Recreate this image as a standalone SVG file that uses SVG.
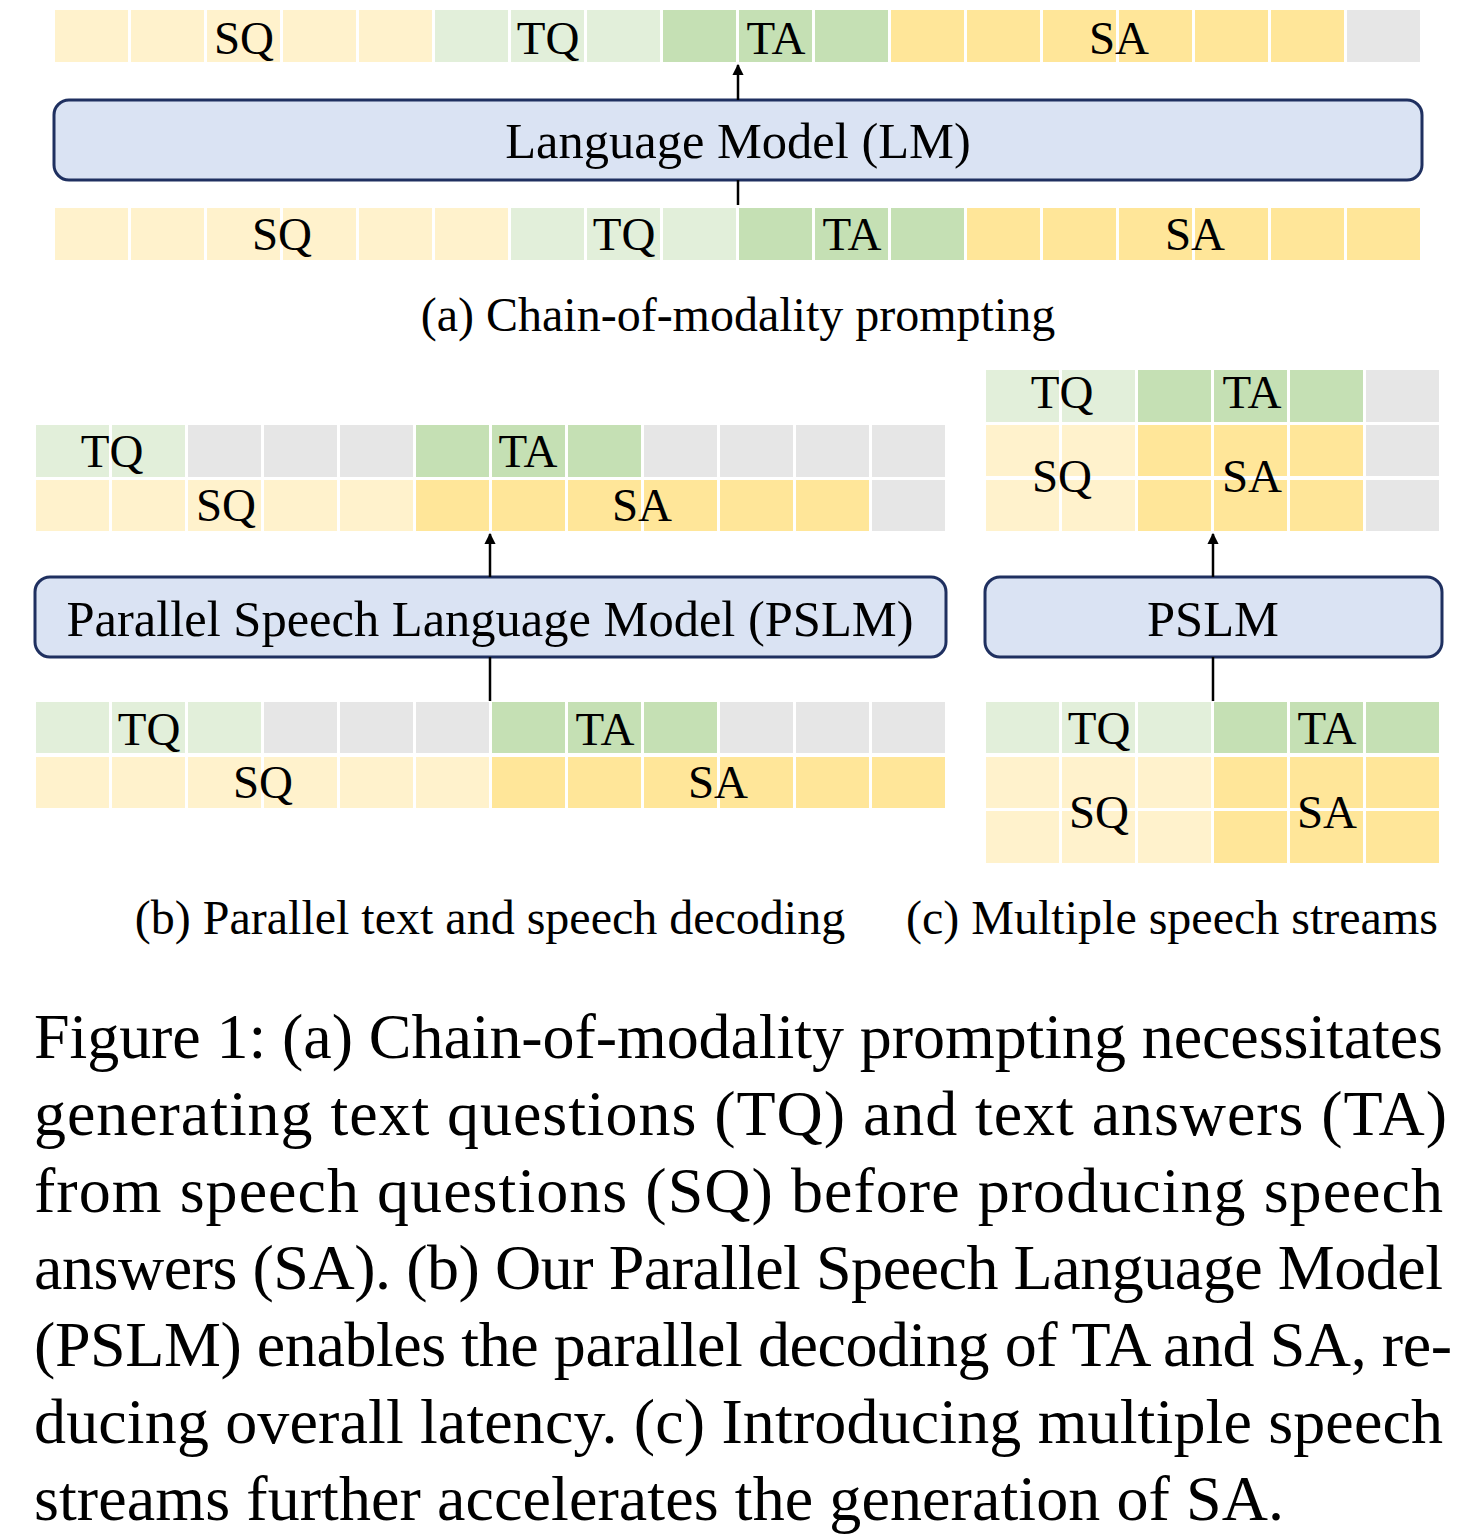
<svg xmlns="http://www.w3.org/2000/svg" width="1476" height="1538" viewBox="0 0 1476 1538">
<style>
.sq{fill:#FFF2CC}.sa{fill:#FFE699}.tq{fill:#E2EFDA}.ta{fill:#C5E0B4}.gr{fill:#E6E6E6}
.lbl{font-family:"Liberation Serif","Times New Roman",serif;font-size:47px;fill:#000;text-anchor:middle}
.box{fill:#DAE3F3;stroke:#1F3060;stroke-width:3}
.bt{font-family:"Liberation Serif","Times New Roman",serif;font-size:50.5px;fill:#000;text-anchor:middle}
.cap{font-family:"Liberation Serif","Times New Roman",serif;font-size:48px;fill:#000;text-anchor:middle}
.fig{font-family:"Liberation Serif","Times New Roman",serif;font-size:64px;fill:#000}
.ln{stroke:#000;stroke-width:2.5;fill:none}
</style>
<defs>
<marker id="ah" viewBox="0 0 10 10" refX="9" refY="5" markerWidth="4.5" markerHeight="4.5" orient="auto" markerUnits="strokeWidth">
<path d="M0,0 L10,5 L0,10 Z" fill="#000"/>
</marker>
</defs>

<g id="a-output">
<rect class="sq" x="55" y="10" width="73" height="52"/><rect class="sq" x="131" y="10" width="73" height="52"/><rect class="sq" x="207" y="10" width="73" height="52"/><rect class="sq" x="283" y="10" width="73" height="52"/><rect class="sq" x="359" y="10" width="73" height="52"/>
<rect class="tq" x="435" y="10" width="73" height="52"/><rect class="tq" x="511" y="10" width="73" height="52"/><rect class="tq" x="587" y="10" width="73" height="52"/>
<rect class="ta" x="663" y="10" width="73" height="52"/><rect class="ta" x="739" y="10" width="73" height="52"/><rect class="ta" x="815" y="10" width="73" height="52"/>
<rect class="sa" x="891" y="10" width="73" height="52"/><rect class="sa" x="967" y="10" width="73" height="52"/><rect class="sa" x="1043" y="10" width="73" height="52"/><rect class="sa" x="1119" y="10" width="73" height="52"/><rect class="sa" x="1195" y="10" width="73" height="52"/><rect class="sa" x="1271" y="10" width="73" height="52"/>
<rect class="gr" x="1347" y="10" width="73" height="52"/>
<text class="lbl" x="244" y="54">SQ</text><text class="lbl" x="548" y="54">TQ</text><text class="lbl" x="776" y="54">TA</text><text class="lbl" x="1119" y="54">SA</text>
</g>

<g id="a-lm">
<rect class="box" x="54" y="100" width="1368" height="80" rx="15"/>
<text class="bt" x="738" y="158">Language Model (LM)</text>
</g>

<g id="a-input">
<rect class="sq" x="55" y="208" width="73" height="52"/><rect class="sq" x="131" y="208" width="73" height="52"/><rect class="sq" x="207" y="208" width="73" height="52"/><rect class="sq" x="283" y="208" width="73" height="52"/><rect class="sq" x="359" y="208" width="73" height="52"/><rect class="sq" x="435" y="208" width="73" height="52"/>
<rect class="tq" x="511" y="208" width="73" height="52"/><rect class="tq" x="587" y="208" width="73" height="52"/><rect class="tq" x="663" y="208" width="73" height="52"/>
<rect class="ta" x="739" y="208" width="73" height="52"/><rect class="ta" x="815" y="208" width="73" height="52"/><rect class="ta" x="891" y="208" width="73" height="52"/>
<rect class="sa" x="967" y="208" width="73" height="52"/><rect class="sa" x="1043" y="208" width="73" height="52"/><rect class="sa" x="1119" y="208" width="73" height="52"/><rect class="sa" x="1195" y="208" width="73" height="52"/><rect class="sa" x="1271" y="208" width="73" height="52"/><rect class="sa" x="1347" y="208" width="73" height="52"/>
<text class="lbl" x="282" y="250">SQ</text><text class="lbl" x="624" y="250">TQ</text><text class="lbl" x="852" y="250">TA</text><text class="lbl" x="1195" y="250">SA</text>
</g>

<text class="cap" x="738" y="331">(a) Chain-of-modality prompting</text>

<g id="b-output">
<rect class="tq" x="36" y="425" width="73" height="52"/><rect class="tq" x="112" y="425" width="73" height="52"/>
<rect class="gr" x="188" y="425" width="73" height="52"/><rect class="gr" x="264" y="425" width="73" height="52"/><rect class="gr" x="340" y="425" width="73" height="52"/>
<rect class="ta" x="416" y="425" width="73" height="52"/><rect class="ta" x="492" y="425" width="73" height="52"/><rect class="ta" x="568" y="425" width="73" height="52"/>
<rect class="gr" x="644" y="425" width="73" height="52"/><rect class="gr" x="720" y="425" width="73" height="52"/><rect class="gr" x="796" y="425" width="73" height="52"/><rect class="gr" x="872" y="425" width="73" height="52"/>
<rect class="sq" x="36" y="480" width="73" height="51"/><rect class="sq" x="112" y="480" width="73" height="51"/><rect class="sq" x="188" y="480" width="73" height="51"/><rect class="sq" x="264" y="480" width="73" height="51"/><rect class="sq" x="340" y="480" width="73" height="51"/>
<rect class="sa" x="416" y="480" width="73" height="51"/><rect class="sa" x="492" y="480" width="73" height="51"/><rect class="sa" x="568" y="480" width="73" height="51"/><rect class="sa" x="644" y="480" width="73" height="51"/><rect class="sa" x="720" y="480" width="73" height="51"/><rect class="sa" x="796" y="480" width="73" height="51"/>
<rect class="gr" x="872" y="480" width="73" height="51"/>
<text class="lbl" x="112" y="467">TQ</text><text class="lbl" x="528" y="467">TA</text><text class="lbl" x="226" y="521">SQ</text><text class="lbl" x="642" y="521">SA</text>
</g>

<g id="b-pslm">
<rect class="box" x="35" y="577" width="911" height="80" rx="15"/>
<text class="bt" x="490" y="636">Parallel Speech Language Model (PSLM)</text>
</g>

<g id="b-input">
<rect class="tq" x="36" y="702" width="73" height="51"/><rect class="tq" x="112" y="702" width="73" height="51"/><rect class="tq" x="188" y="702" width="73" height="51"/>
<rect class="gr" x="264" y="702" width="73" height="51"/><rect class="gr" x="340" y="702" width="73" height="51"/><rect class="gr" x="416" y="702" width="73" height="51"/>
<rect class="ta" x="492" y="702" width="73" height="51"/><rect class="ta" x="568" y="702" width="73" height="51"/><rect class="ta" x="644" y="702" width="73" height="51"/>
<rect class="gr" x="720" y="702" width="73" height="51"/><rect class="gr" x="796" y="702" width="73" height="51"/><rect class="gr" x="872" y="702" width="73" height="51"/>
<rect class="sq" x="36" y="757" width="73" height="51"/><rect class="sq" x="112" y="757" width="73" height="51"/><rect class="sq" x="188" y="757" width="73" height="51"/><rect class="sq" x="264" y="757" width="73" height="51"/><rect class="sq" x="340" y="757" width="73" height="51"/><rect class="sq" x="416" y="757" width="73" height="51"/>
<rect class="sa" x="492" y="757" width="73" height="51"/><rect class="sa" x="568" y="757" width="73" height="51"/><rect class="sa" x="644" y="757" width="73" height="51"/><rect class="sa" x="720" y="757" width="73" height="51"/><rect class="sa" x="796" y="757" width="73" height="51"/><rect class="sa" x="872" y="757" width="73" height="51"/>
<text class="lbl" x="149" y="745">TQ</text><text class="lbl" x="605" y="745">TA</text><text class="lbl" x="263" y="798">SQ</text><text class="lbl" x="718" y="798">SA</text>
</g>

<g id="c-output">
<rect class="tq" x="986" y="370" width="73" height="52"/><rect class="tq" x="1062" y="370" width="73" height="52"/>
<rect class="ta" x="1138" y="370" width="73" height="52"/><rect class="ta" x="1214" y="370" width="73" height="52"/><rect class="ta" x="1290" y="370" width="73" height="52"/>
<rect class="gr" x="1366" y="370" width="73" height="52"/>
<rect class="sq" x="986" y="425" width="73" height="51"/><rect class="sq" x="1062" y="425" width="73" height="51"/>
<rect class="sa" x="1138" y="425" width="73" height="51"/><rect class="sa" x="1214" y="425" width="73" height="51"/><rect class="sa" x="1290" y="425" width="73" height="51"/>
<rect class="gr" x="1366" y="425" width="73" height="51"/>
<rect class="sq" x="986" y="480" width="73" height="51"/><rect class="sq" x="1062" y="480" width="73" height="51"/>
<rect class="sa" x="1138" y="480" width="73" height="51"/><rect class="sa" x="1214" y="480" width="73" height="51"/><rect class="sa" x="1290" y="480" width="73" height="51"/>
<rect class="gr" x="1366" y="480" width="73" height="51"/>
<text class="lbl" x="1062" y="408">TQ</text><text class="lbl" x="1252" y="408">TA</text><text class="lbl" x="1062" y="492">SQ</text><text class="lbl" x="1252" y="492">SA</text>
</g>

<g id="c-pslm">
<rect class="box" x="985" y="577" width="457" height="80" rx="15"/>
<text class="bt" x="1213" y="636">PSLM</text>
</g>

<g id="c-input">
<rect class="tq" x="986" y="702" width="73" height="51"/><rect class="tq" x="1062" y="702" width="73" height="51"/><rect class="tq" x="1138" y="702" width="73" height="51"/>
<rect class="ta" x="1214" y="702" width="73" height="51"/><rect class="ta" x="1290" y="702" width="73" height="51"/><rect class="ta" x="1366" y="702" width="73" height="51"/>
<rect class="sq" x="986" y="757" width="73" height="51"/><rect class="sq" x="1062" y="757" width="73" height="51"/><rect class="sq" x="1138" y="757" width="73" height="51"/>
<rect class="sa" x="1214" y="757" width="73" height="51"/><rect class="sa" x="1290" y="757" width="73" height="51"/><rect class="sa" x="1366" y="757" width="73" height="51"/>
<rect class="sq" x="986" y="811" width="73" height="52"/><rect class="sq" x="1062" y="811" width="73" height="52"/><rect class="sq" x="1138" y="811" width="73" height="52"/>
<rect class="sa" x="1214" y="811" width="73" height="52"/><rect class="sa" x="1290" y="811" width="73" height="52"/><rect class="sa" x="1366" y="811" width="73" height="52"/>
<text class="lbl" x="1099" y="744">TQ</text><text class="lbl" x="1327" y="744">TA</text><text class="lbl" x="1099" y="828">SQ</text><text class="lbl" x="1327" y="828">SA</text>
</g>

<g id="connectors">
<line class="ln" x1="738" y1="100" x2="738" y2="65" marker-end="url(#ah)"/>
<line class="ln" x1="738" y1="180" x2="738" y2="205"/>
<line class="ln" x1="490" y1="577" x2="490" y2="534" marker-end="url(#ah)"/>
<line class="ln" x1="490" y1="657" x2="490" y2="701"/>
<line class="ln" x1="1213" y1="577" x2="1213" y2="534" marker-end="url(#ah)"/>
<line class="ln" x1="1213" y1="657" x2="1213" y2="701"/>
</g>

<text class="cap" x="490" y="934">(b) Parallel text and speech decoding</text>
<text class="cap" x="1172" y="934">(c) Multiple speech streams</text>

<g id="caption">
<text class="fig" x="34" y="1058" textLength="1409" lengthAdjust="spacing">Figure 1: (a) Chain-of-modality prompting necessitates</text>
<text class="fig" x="34" y="1135" textLength="1413" lengthAdjust="spacing">generating text questions (TQ) and text answers (TA)</text>
<text class="fig" x="34" y="1212" textLength="1409" lengthAdjust="spacing">from speech questions (SQ) before producing speech</text>
<text class="fig" x="34" y="1289" textLength="1409" lengthAdjust="spacing">answers (SA). (b) Our Parallel Speech Language Model</text>
<text class="fig" x="34" y="1366" textLength="1418" lengthAdjust="spacing">(PSLM) enables the parallel decoding of TA and SA, re-</text>
<text class="fig" x="34" y="1443" textLength="1409" lengthAdjust="spacing">ducing overall latency. (c) Introducing multiple speech</text>
<text class="fig" x="34" y="1520" textLength="1250" lengthAdjust="spacing">streams further accelerates the generation of SA.</text>
</g>
</svg>
